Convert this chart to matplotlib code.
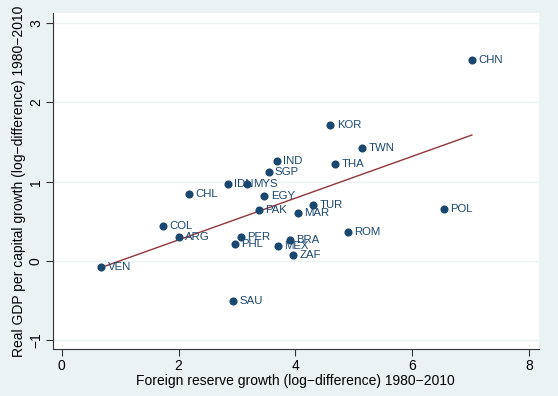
import numpy as np
import matplotlib
matplotlib.use("Agg")
import matplotlib.pyplot as plt

countries = ["CHN", "KOR", "TWN", "IND", "THA", "SGP", "IDN", "MYS", "CHL", "EGY",
             "TUR", "PAK", "MAR", "POL", "COL", "ROM", "ARG", "PER", "BRA", "PHL",
             "MEX", "ZAF", "VEN", "SAU"]
reserve_growth = [7.02, 4.60, 5.14, 3.68, 4.68, 3.54, 2.85, 3.17, 2.18, 3.47,
                  4.31, 3.37, 4.04, 6.54, 1.74, 4.90, 2.00, 3.07, 3.91, 2.97,
                  3.70, 3.96, 0.68, 2.93]
gdp_growth = [2.53, 1.71, 1.43, 1.26, 1.22, 1.12, 0.97, 0.97, 0.85, 0.82,
              0.71, 0.64, 0.60, 0.65, 0.44, 0.36, 0.30, 0.30, 0.27, 0.21,
              0.19, 0.07, -0.07, -0.50]
xticks = [0, 2, 4, 6, 8]
yticks = [-1, 0, 1, 2, 3]

navy = "#1a476f"
maroon = "#90353b"
bg = "#eaf2f3"

plt.rcParams['font.family'] = ['Liberation Sans', 'DejaVu Sans']

fig = plt.figure(figsize=(5.58, 3.96), dpi=100, facecolor=bg)
ax = fig.add_axes([0.0944, 0.1187, 0.966 - 0.0944, 0.9664 - 0.1187])
ax.set_facecolor("white")

x = np.array(reserve_growth)
y = np.array(gdp_growth)
b, a = np.polyfit(x, y, 1)
xs = np.array([x.min(), x.max()])
ax.plot(xs, a + b * xs, color=maroon, lw=1.0, zorder=2)

ax.scatter(x, y, s=34, color=navy, zorder=3, linewidths=0)
for c, xi, yi in zip(countries, x, y):
    ax.annotate(c, (xi, yi), xytext=(4.5, 0), textcoords="offset points",
                va="center", ha="left", fontsize=8.2, color=navy, zorder=4)

ax.set_xlim(-0.154, 8.17)
ax.set_ylim(-1.11, 3.125)
ax.set_xticks(xticks)
ax.set_xticklabels([str(t).replace("-", "\u2212") for t in xticks])
ax.set_yticks(yticks)
ax.set_yticklabels([str(t).replace("-", "\u2212") for t in yticks],
                   rotation=90, va="center")
ax.tick_params(axis="both", direction="out", length=5, width=0.8,
               color="#333333", labelsize=10, labelcolor="black", pad=2)

ax.grid(axis="y", color=bg, lw=1.0, zorder=0)
ax.set_axisbelow(True)
for s in ["top", "right"]:
    ax.spines[s].set_visible(False)
for s in ["left", "bottom"]:
    ax.spines[s].set_color("#333333")
    ax.spines[s].set_linewidth(0.8)

ax.set_xlabel("Foreign reserve growth (log\u2212difference) 1980\u22122010",
              fontsize=10, labelpad=1)
ax.set_ylabel("Real GDP per capital growth (log\u2212difference) 1980\u22122010",
              fontsize=10, labelpad=2)

fig.savefig("out.png", dpi=100, facecolor=bg)
